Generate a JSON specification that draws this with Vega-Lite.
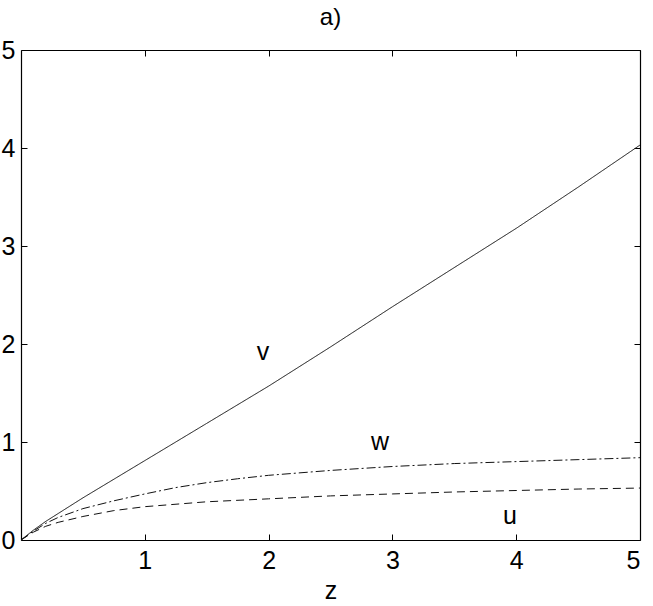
{
  "$schema": "https://vega.github.io/schema/vega-lite/v6.json",
  "autosize": "none",
  "padding": {"left": 21, "top": 50, "right": 13, "bottom": 66},
  "width": 619,
  "height": 490,
  "background": "white",
  "title": {"text": "a)", "fontSize": 24, "font": "Liberation Sans", "fontWeight": "normal", "color": "black", "offset": 8},
  "config": {
    "view": {"stroke": null},
    "axis": {"domainColor": "black", "domainWidth": 1.2, "tickColor": "black", "tickWidth": 1, "tickSize": -6, "grid": false, "labelFont": "Liberation Sans", "labelFontSize": 25, "labelColor": "black", "titleFont": "Liberation Sans", "titleFontSize": 25, "titleFontWeight": "normal", "titleColor": "black"}
  },
  "datasets": {
    "curves": [
      {"z": 0, "val": 0, "s": "v"}, {"z": 0.1, "val": 0.1, "s": "v"}, {"z": 0.2, "val": 0.19, "s": "v"}, {"z": 0.3, "val": 0.27, "s": "v"}, {"z": 0.5, "val": 0.43, "s": "v"}, {"z": 0.75, "val": 0.62, "s": "v"}, {"z": 1, "val": 0.81, "s": "v"}, {"z": 1.5, "val": 1.19, "s": "v"}, {"z": 2, "val": 1.57, "s": "v"}, {"z": 2.5, "val": 1.97, "s": "v"}, {"z": 3, "val": 2.38, "s": "v"}, {"z": 3.5, "val": 2.78, "s": "v"}, {"z": 4, "val": 3.18, "s": "v"}, {"z": 4.5, "val": 3.6, "s": "v"}, {"z": 5, "val": 4.03, "s": "v"},
      {"z": 0, "val": 0, "s": "w"}, {"z": 0.1, "val": 0.09, "s": "w"}, {"z": 0.2, "val": 0.17, "s": "w"}, {"z": 0.3, "val": 0.23, "s": "w"}, {"z": 0.5, "val": 0.32, "s": "w"}, {"z": 0.75, "val": 0.4, "s": "w"}, {"z": 1, "val": 0.47, "s": "w"}, {"z": 1.25, "val": 0.535, "s": "w"}, {"z": 1.5, "val": 0.585, "s": "w"}, {"z": 1.75, "val": 0.625, "s": "w"}, {"z": 2, "val": 0.66, "s": "w"}, {"z": 2.5, "val": 0.71, "s": "w"}, {"z": 3, "val": 0.75, "s": "w"}, {"z": 3.5, "val": 0.78, "s": "w"}, {"z": 4, "val": 0.8, "s": "w"}, {"z": 4.5, "val": 0.82, "s": "w"}, {"z": 5, "val": 0.84, "s": "w"},
      {"z": 0, "val": 0, "s": "u"}, {"z": 0.1, "val": 0.08, "s": "u"}, {"z": 0.2, "val": 0.14, "s": "u"}, {"z": 0.3, "val": 0.18, "s": "u"}, {"z": 0.5, "val": 0.24, "s": "u"}, {"z": 0.75, "val": 0.3, "s": "u"}, {"z": 1, "val": 0.34, "s": "u"}, {"z": 1.5, "val": 0.39, "s": "u"}, {"z": 2, "val": 0.42, "s": "u"}, {"z": 2.5, "val": 0.45, "s": "u"}, {"z": 3, "val": 0.47, "s": "u"}, {"z": 3.5, "val": 0.49, "s": "u"}, {"z": 4, "val": 0.505, "s": "u"}, {"z": 4.5, "val": 0.52, "s": "u"}, {"z": 5, "val": 0.53, "s": "u"}
    ],
    "labels": [
      {"z": 1.955, "val": 1.92, "name": "v"},
      {"z": 2.9, "val": 1.0, "name": "w"},
      {"z": 3.95, "val": 0.25, "name": "u"}
    ]
  },
  "layer": [
    {
      "data": {"name": "curves"},
      "mark": {"type": "line", "color": "#111", "strokeWidth": 1},
      "encoding": {
        "x": {"field": "z", "type": "quantitative", "scale": {"domain": [0, 5], "nice": false}, "axis": {"orient": "bottom", "values": [1, 2, 3, 4, 5], "title": "z", "labelPadding": 14, "titlePadding": 5}},
        "y": {"field": "val", "type": "quantitative", "scale": {"domain": [0, 5], "nice": false}, "axis": {"orient": "left", "values": [0, 1, 2, 3, 4, 5], "title": null, "labelPadding": 12}},
        "detail": {"field": "s"},
        "strokeDash": {"field": "s", "type": "nominal", "scale": {"domain": ["v", "w", "u"], "range": [[1, 0], [9, 3, 2, 3], [8, 5]]}, "legend": null}
      }
    },
    {
      "data": {"name": "curves"},
      "mark": {"type": "point", "opacity": 0},
      "encoding": {
        "x": {"field": "z", "type": "quantitative", "scale": {"domain": [0, 5], "nice": false}, "axis": {"orient": "top", "values": [1, 2, 3, 4, 5], "labels": false, "title": null}},
        "y": {"field": "val", "type": "quantitative", "scale": {"domain": [0, 5], "nice": false}, "axis": {"orient": "right", "values": [0, 1, 2, 3, 4, 5], "labels": false, "title": null}}
      }
    },
    {
      "data": {"name": "labels"},
      "mark": {"type": "text", "font": "Liberation Sans", "fontSize": 25, "color": "black"},
      "encoding": {
        "x": {"field": "z", "type": "quantitative", "axis": null},
        "y": {"field": "val", "type": "quantitative", "axis": null},
        "text": {"field": "name"}
      }
    }
  ],
  "resolve": {"axis": {"x": "independent", "y": "independent"}}
}
